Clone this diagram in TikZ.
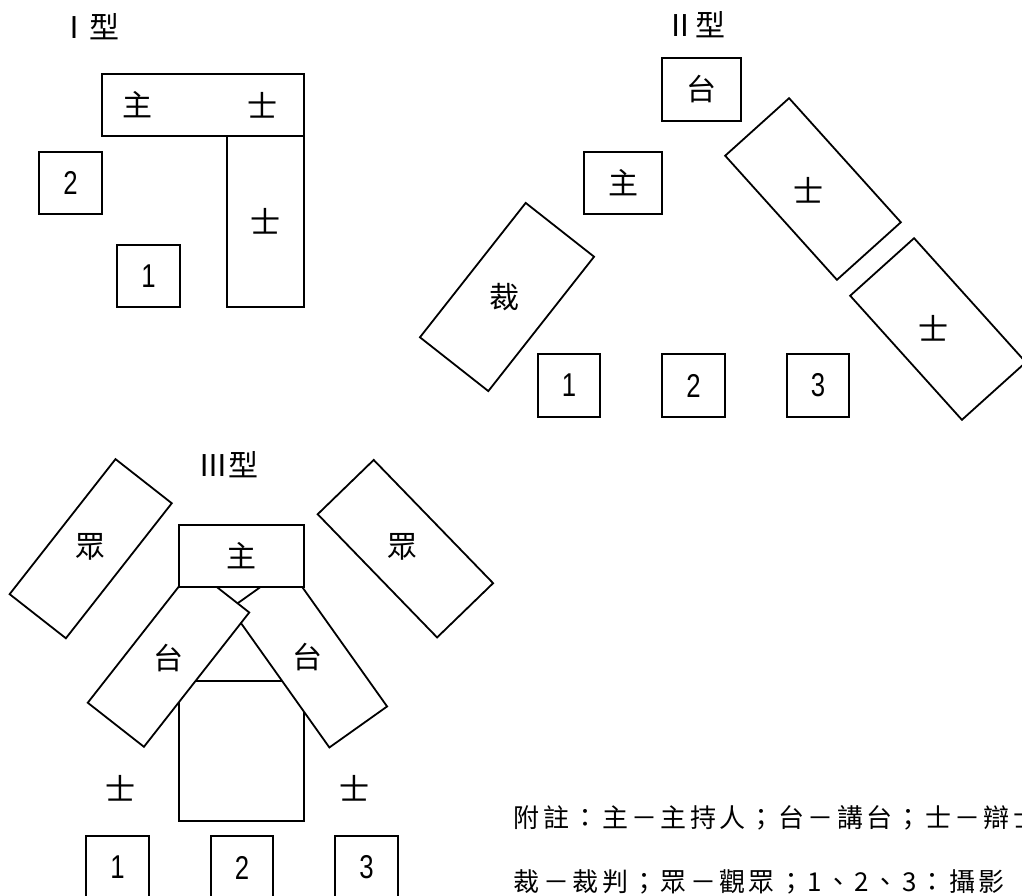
\documentclass[tikz,border=0pt]{standalone}
\usepackage{fontspec}
\setmainfont{Noto Sans CJK TC}
\newfontfamily\numfont[FakeStretch=0.78]{Liberation Sans}
\newfontfamily\notefont[LetterSpace=13]{Noto Sans CJK TC}

\begin{document}
\begin{tikzpicture}[x=1pt,y=-1pt,line width=1.8pt,
    seatbox/.style={draw,fill=white,inner sep=0pt,font=\fontsize{30}{30}\selectfont},
    cambox/.style={seatbox,minimum width=62.5pt,minimum height=62.5pt,font=\numfont\fontsize{33}{33}\selectfont},
    tag/.style={inner sep=0pt,font=\fontsize{30}{30}\selectfont},
    notetext/.style={inner sep=0pt,anchor=west,font=\notefont\fontsize{26}{26}\selectfont}]
    \useasboundingbox (0,0) rectangle (1022,896);

    \node[tag] (title1) at (89,27) {Ⅰ型};
    \node[seatbox,minimum width=202pt,minimum height=62pt] (host1) at (203,105) {};
    \node[tag] (host1txt) at (137,105) {主};
    \node[tag] (spk1atxt) at (262,105) {士};
    \node[seatbox,minimum width=77pt,minimum height=171pt] (spk1b) at (265.5,221.5) {士};
    \node[cambox] (cam12) at (70.5,183) {2};
    \node[cambox] (cam11) at (148.5,276) {1};

    \node[tag] (title2) at (695,25) {Ⅱ型};
    \node[seatbox,minimum width=79pt,minimum height=63pt] (desk2) at (701.5,89.5) {台};
    \node[seatbox,minimum width=78pt,minimum height=62pt] (host2) at (623,183) {主};
    \node[seatbox,minimum width=171pt,minimum height=87pt,rotate=51.8] (judge2) at (507,297) {};
    \node[tag] (judge2txt) at (504,297) {裁};
    \node[seatbox,minimum width=167pt,minimum height=86pt,rotate=-48] (spk2a) at (813,189) {};
    \node[tag] (spk2atxt) at (808,190) {士};
    \node[seatbox,minimum width=167pt,minimum height=86pt,rotate=-48] (spk2b) at (938,329) {};
    \node[tag] (spk2btxt) at (933,328) {士};
    \node[cambox] (cam21) at (569,385.5) {1};
    \node[cambox] (cam22) at (693.5,385.5) {2};
    \node[cambox] (cam23) at (818,385.5) {3};

    \node[tag] (title3) at (228.5,465) {Ⅲ型};
    \node[seatbox,minimum width=171.6pt,minimum height=71.5pt,rotate=51.9] (aud3a) at (90.7,548.7) {};
    \node[tag] (aud3atxt) at (90,547) {眾};
    \node[seatbox,minimum width=171.6pt,minimum height=78pt,rotate=-45.9] (aud3b) at (405.4,548.7) {};
    \node[tag] (aud3btxt) at (402,547) {眾};
    \node[seatbox,minimum width=125pt,minimum height=140pt] (spk3) at (241.8,750.7) {};
    \node[seatbox,minimum width=170.7pt,minimum height=70.8pt,rotate=-54.6] (desk3b) at (308.8,657.4) {};
    \node[tag] (desk3btxt) at (307,657) {台};
    \node[seatbox,minimum width=170.7pt,minimum height=71.4pt,rotate=51.9] (desk3a) at (168.5,657.6) {};
    \node[tag] (desk3atxt) at (168,658) {台};
    \node[seatbox,minimum width=125pt,minimum height=61.7pt] (host3) at (241.8,555.9) {主};
    \node[tag] (spk3atxt) at (120,788) {士};
    \node[tag] (spk3btxt) at (354,788) {士};
    \node[cambox] (cam31) at (117.5,867.5) {1};
    \node[cambox] (cam32) at (242,867.5) {2};
    \node[cambox] (cam33) at (366.5,867.5) {3};

    \node[notetext] (note1) at (513,818) {附註：主－主持人；台－講台；士－辯士};
    \node[notetext] (note2) at (513,882) {裁－裁判；眾－觀眾；1、2、3：攝影};
\end{tikzpicture}
\end{document}
